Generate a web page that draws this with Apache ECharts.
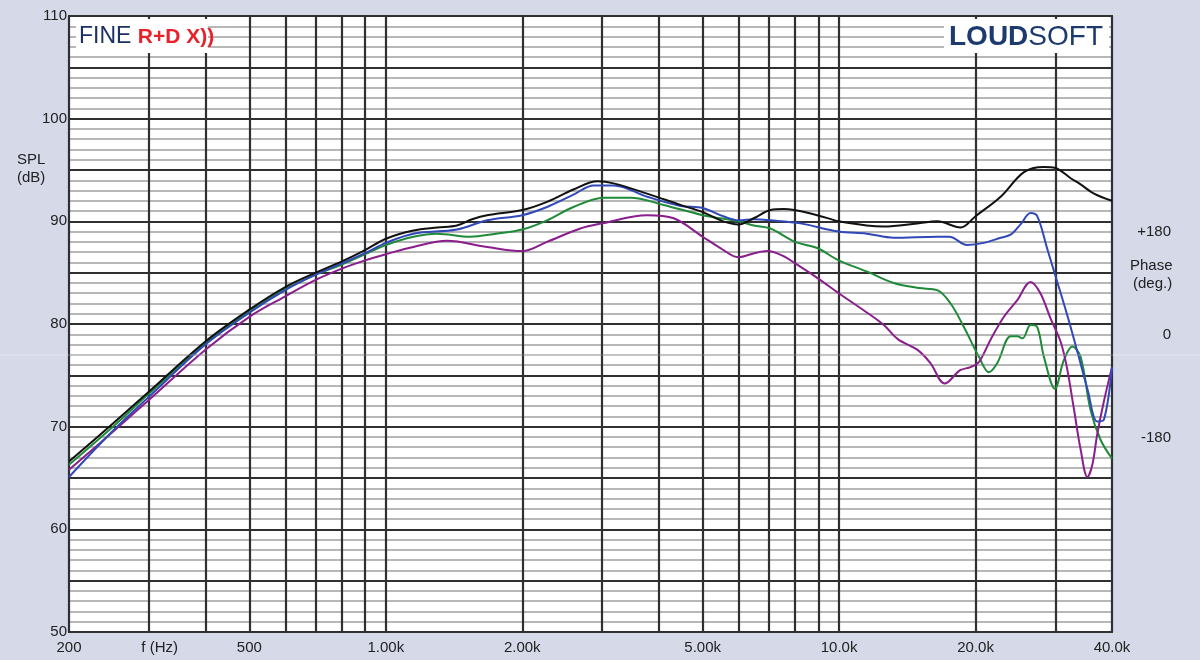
<!DOCTYPE html>
<html><head><meta charset="utf-8">
<script src="https://cdn.jsdelivr.net/npm/echarts@6/dist/echarts.min.js"></script>
<style>html,body{margin:0;padding:0;background:#d5d9e8;} #c{width:1200px;height:660px;}</style>
</head><body><div id="c"></div>
<script>
// ---- data ----
const blackFreq = [200,250,300,400,500,600,700,800,900,1000,1150,1300,1435,1550,1672,2000,2268,2594,2930,3180,3770,4466,5000,5550,6000,6480,7055,7550,8945,9980,11500,12550,14870,16460,18530,20000,22720,25580,28300,30000,32420,34100,36500,40000];
const blackSpl  = [66.6,70.3,73.4,78.3,81.4,83.6,85.0,86.1,87.2,88.3,89.1,89.4,89.6,90.2,90.6,91.1,91.9,93.1,93.9,93.7,92.7,91.6,90.9,90.0,89.7,90.3,91.1,91.2,90.6,90.0,89.6,89.5,89.8,90.0,89.4,90.5,92.4,94.8,95.3,95.2,94.2,93.6,92.7,92.0];

const blueFreq = [200,250,300,400,500,600,700,800,900,1000,1150,1435,1672,2000,2268,2594,2874,3180,3770,4466,5000,5550,6000,6480,7055,8220,9980,11500,13200,16460,17500,19170,20860,22720,23900,25140,26450,27360,28840,30340,31940,33600,35340,37120,38400,40000];
const blueSpl  = [65.1,69.6,72.9,78.0,81.1,83.3,84.8,85.9,86.9,87.9,88.8,89.2,90.1,90.6,91.4,92.6,93.5,93.5,92.4,91.5,91.3,90.5,90.1,90.2,90.1,89.8,89.0,88.8,88.4,88.5,88.5,87.7,87.9,88.4,88.7,89.7,90.8,90.5,87.2,84.0,80.7,77.2,73.6,70.5,70.7,75.8];

const greenFreq = [200,250,300,400,500,600,700,800,900,1000,1150,1296,1536,1750,2000,2268,2594,3020,3460,4100,5000,6000,6480,7055,8000,8945,9980,11530,13200,15000,16460,17620,18850,20350,21400,22340,23900,24720,25400,26450,27360,28300,29930,31330,32700,34100,35880,37760,40000];
const greenSpl  = [66.3,70.0,73.2,78.1,81.2,83.4,84.8,85.8,86.8,87.7,88.5,88.8,88.5,88.8,89.2,90.1,91.4,92.3,92.3,91.6,90.6,90.0,89.6,89.3,88.0,87.4,86.2,85.1,84.0,83.5,83.3,82.0,79.7,76.8,75.3,76.2,78.8,78.8,78.6,79.9,79.7,76.8,73.7,76.5,77.8,76.8,71.6,68.7,66.9];

const purpleFreq = [200,250,300,400,500,600,700,800,900,1000,1150,1364,1672,2000,2268,2686,3000,3770,4316,5000,5470,6000,6500,6935,7550,8000,8945,9980,11530,12550,13500,14870,15900,17100,18500,19500,20350,21600,23100,24700,26450,27800,29300,30800,31800,33000,34100,35300,36200,37120,38400,40000];
const purpleSpl  = [65.8,69.5,72.6,77.5,80.7,82.7,84.3,85.4,86.2,86.8,87.5,88.1,87.5,87.1,88.0,89.3,89.8,90.6,90.3,88.5,87.4,86.5,86.9,87.1,86.6,85.9,84.5,83.0,81.1,79.9,78.5,77.5,76.2,74.2,75.5,75.8,76.3,78.5,80.7,82.3,84.1,83.0,80.5,78.3,75.8,71.6,67.8,65.1,66.3,69.3,72.5,75.8];

const xGridFreqs = [200,300,400,500,600,700,800,900,1000,2000,3000,4000,5000,6000,7000,8000,9000,10000,20000,30000,40000];
const xLabelValues = [200,317,500,1000,2000,5000,10000,20000,40000];
const xLabelTexts  = ['200','f (Hz)','500','1.00k','2.00k','5.00k','10.0k','20.0k','40.0k'];
const phaseTickValues = [180,0,-180];
const phaseTickTexts  = ['+180','0','-180'];

const pairs = (f, v) => f.map((x, i) => [x, v[i]]);

const chart = echarts.init(document.getElementById('c'), null, {renderer: 'canvas'});
const FONT = "'Liberation Sans', Arial, sans-serif";
const dark = '#303030';

const mkSeries = (name, f, v, color) => ({
  name, type: 'line', data: pairs(f, v), showSymbol: false, smooth: 0.35,
  lineStyle: {color, width: 2}, itemStyle: {color}, z: 5, animation: false
});

chart.setOption({
  backgroundColor: '#d5d9e8',
  animation: false,
  grid: {left: 69, right: 88, top: 16, bottom: 28, show: true, backgroundColor: '#ffffff', borderColor: dark, borderWidth: 2},
  xAxis: {
    type: 'log', logBase: 10, min: 200, max: 40000,
    axisLine: {show: false},
    axisTick: {show: false, customValues: xGridFreqs},
    splitLine: {show: true, lineStyle: {color: dark, width: 2.2}},
    minorSplitLine: {show: false},
    axisLabel: {
      customValues: xLabelValues, margin: 8, color: '#222', fontSize: 15, fontFamily: FONT,
      formatter: (val) => {
        const i = xLabelValues.findIndex(v => Math.abs(Math.log10(v) - Math.log10(val)) < 0.002);
        return i >= 0 ? xLabelTexts[i] : '';
      }
    }
  },
  yAxis: [{
    type: 'value', min: 50, max: 110, interval: 5,
    axisLine: {show: false}, axisTick: {show: false},
    splitLine: {show: true, lineStyle: {color: dark, width: 2.2}},
    minorTick: {show: false, splitNumber: 5},
    minorSplitLine: {show: true, lineStyle: {color: '#a0a0a0', width: 1.5}},
    axisLabel: {margin: 2, color: '#222', fontSize: 15, fontFamily: FONT,
      formatter: (v) => (v % 10 === 0 ? String(v) : '')}
  }, {
    type: 'value', position: 'right', min: -519, max: 557.5,
    axisLine: {show: false}, axisTick: {show: false}, splitLine: {show: false},
    axisLabel: {customValues: phaseTickValues, margin: 59, align: 'right', color: '#222', fontSize: 15, fontFamily: FONT,
      formatter: (v) => { const i = phaseTickValues.indexOf(Math.round(v)); return i >= 0 ? phaseTickTexts[i] : ''; }}
  }],
  series: [
    mkSeries('green', greenFreq, greenSpl, '#1f8a38'),
    mkSeries('purple', purpleFreq, purpleSpl, '#8a1e8c'),
    mkSeries('blue', blueFreq, blueSpl, '#3148b8'),
    mkSeries('black', blackFreq, blackSpl, '#111111')
  ],
  graphic: [
    {type: 'text', left: 17, top: 151, style: {text: 'SPL\n(dB)', font: "15px " + FONT, fill: '#222', lineHeight: 18, align: 'left'}},
    {type: 'text', left: 1130, top: 258, style: {text: 'Phase', font: "15px " + FONT, fill: '#222'}},
    {type: 'text', left: 1133, top: 276, style: {text: '(deg.)', font: "15px " + FONT, fill: '#222'}},
    {type: 'rect', shape: {x: 76, y: 19, width: 132, height: 34}, style: {fill: '#ffffff'}, z: 10},
    {type: 'text', x: 79, y: 37, z: 11, style: {
      text: '{a|FINE }{b|R+D X))}', verticalAlign: 'middle',
      rich: {a: {font: "23px " + FONT, fill: '#1c2f66'}, b: {font: "bold 21px " + FONT, fill: '#e8222a'}}
    }},
    {type: 'rect', shape: {x: 944, y: 19, width: 165, height: 34}, style: {fill: '#ffffff'}, z: 10},
    {type: 'text', x: 1103, y: 37, z: 11, style: {
      text: '{a|LOUD}{b|SOFT}', align: 'right', verticalAlign: 'middle',
      rich: {a: {font: "bold 28px " + FONT, fill: '#1d3a6e'}, b: {font: "28px " + FONT, fill: '#1d3a6e'}}
    }},
    {type: 'line', shape: {x1: 0, y1: 355, x2: 1200, y2: 355}, style: {stroke: 'rgba(255,255,255,0.35)', lineWidth: 1}, z: 20, silent: true}
  ]
});
</script></body></html>
